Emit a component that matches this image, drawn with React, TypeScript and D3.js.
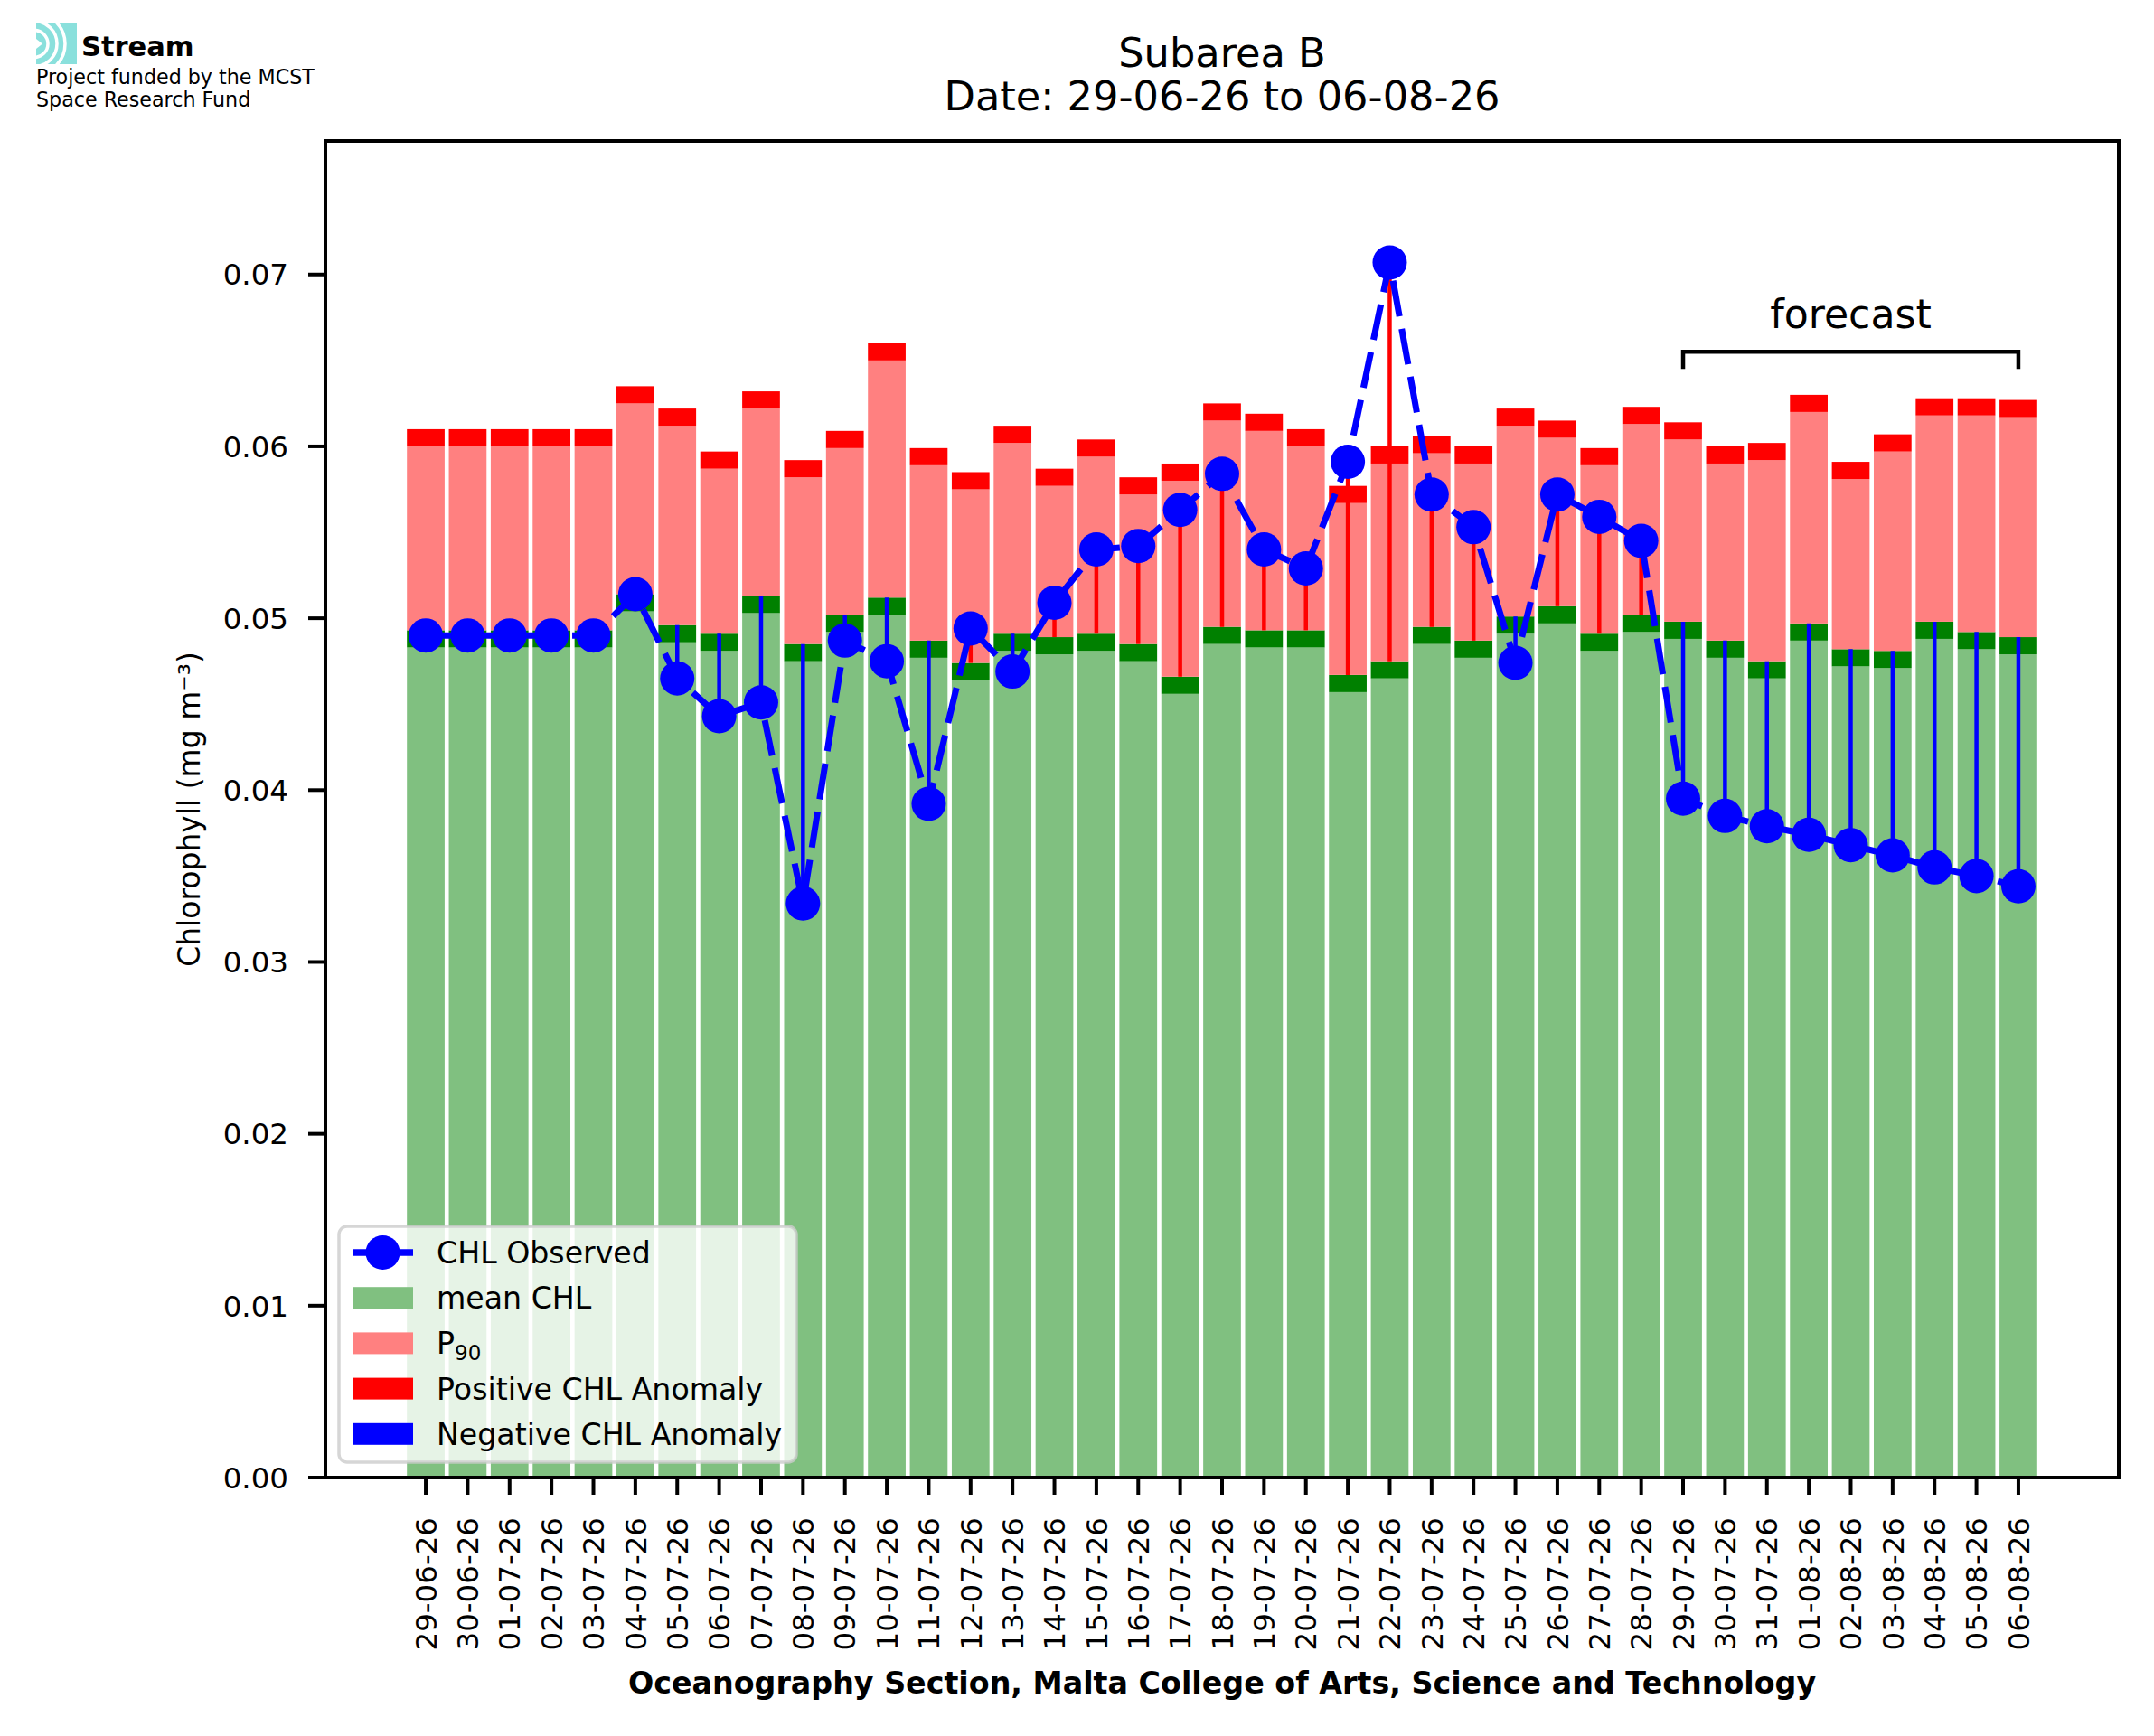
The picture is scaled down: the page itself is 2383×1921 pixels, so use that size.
import React, { useEffect, useRef } from "react";
import * as d3 from "d3";

// dates shown on the x axis
const dates = [
  "29-06-26", "30-06-26", "01-07-26", "02-07-26", "03-07-26", "04-07-26",
  "05-07-26", "06-07-26", "07-07-26", "08-07-26", "09-07-26", "10-07-26",
  "11-07-26", "12-07-26", "13-07-26", "14-07-26", "15-07-26", "16-07-26",
  "17-07-26", "18-07-26", "19-07-26", "20-07-26", "21-07-26", "22-07-26",
  "23-07-26", "24-07-26", "25-07-26", "26-07-26", "27-07-26", "28-07-26",
  "29-07-26", "30-07-26", "31-07-26", "01-08-26", "02-08-26", "03-08-26",
  "04-08-26", "05-08-26", "06-08-26",
];

// climatological mean CHL (top of the light green bar)
const meanChl = [
  0.0483, 0.0483, 0.0483, 0.0483, 0.0483, 0.0504, 0.0486, 0.0481, 0.0503,
  0.0475, 0.0492, 0.0502, 0.0477, 0.0464, 0.0481, 0.0479, 0.0481, 0.0475,
  0.0456, 0.0485, 0.0483, 0.0483, 0.0457, 0.0465, 0.0485, 0.0477, 0.0491,
  0.0497, 0.0481, 0.0492, 0.0488, 0.0477, 0.0465, 0.0487, 0.0472, 0.0471,
  0.0488, 0.0482, 0.0479,
];

// 90th percentile (top of the light red bar)
const p90Chl = [
  0.06, 0.06, 0.06, 0.06, 0.06, 0.0625, 0.0612, 0.0587, 0.0622, 0.0582,
  0.0599, 0.065, 0.0589, 0.0575, 0.0602, 0.0577, 0.0594, 0.0572, 0.058,
  0.0615, 0.0609, 0.06, 0.0567, 0.059, 0.0596, 0.059, 0.0612, 0.0605,
  0.0589, 0.0613, 0.0604, 0.059, 0.0592, 0.062, 0.0581, 0.0597, 0.0618,
  0.0618, 0.0617,
];

// observed / forecast CHL
const observedChl = [
  0.049, 0.049, 0.049, 0.049, 0.049, 0.0514, 0.0465, 0.0443, 0.0451, 0.0334,
  0.0487, 0.0475, 0.0392, 0.0494, 0.0469, 0.0509, 0.054, 0.0542, 0.0563,
  0.0584, 0.054, 0.0529, 0.0591, 0.0707, 0.0572, 0.0553, 0.0474, 0.0572,
  0.0559, 0.0545, 0.0395, 0.0385, 0.0379, 0.0374, 0.0368, 0.0362, 0.0355,
  0.035, 0.0344,
];

const yTicks = [0, 0.01, 0.02, 0.03, 0.04, 0.05, 0.06, 0.07];
const band = 0.001; // thickness of the dark green / red caps
const forecastStart = 30;
const forecastEnd = 38;

const W = 2383;
const H = 1921;
const font = "DejaVu Sans";

function App() {
  const ref = useRef<SVGSVGElement>(null);

  useEffect(() => {
    const svg = d3.select(ref.current);
    svg.selectAll("*").remove();

    const n = dates.length;
    var margin = { left: 360, right: 2344, top: 156, bottom: 1635 };
    var barW = 0.9;
    var pad = 0.05 * (n - 1 + barW);
    const x = d3
      .scaleLinear()
      .domain([-barW / 2 - pad, n - 1 + barW / 2 + pad])
      .range([margin.left, margin.right]);
    const y = d3
      .scaleLinear()
      .domain([0, d3.max(observedChl)! * 1.1])
      .range([margin.bottom, margin.top]);
    const bw = x(barW) - x(0);

    const idx = d3.range(n);
    const bars = svg.append("g");

    // stacked bars: mean, mean cap, P90, P90 cap
    const layers = [
      { lo: () => 0, hi: (i: number) => meanChl[i], color: "#80c080" },
      { lo: (i: number) => meanChl[i], hi: (i: number) => meanChl[i] + band, color: "#008000" },
      { lo: (i: number) => meanChl[i] + band, hi: (i: number) => p90Chl[i], color: "#ff8080" },
      { lo: (i: number) => p90Chl[i], hi: (i: number) => p90Chl[i] + band, color: "#ff0000" },
    ];
    layers.forEach((l) => {
      bars
        .selectAll(null)
        .data(idx)
        .enter()
        .append("rect")
        .attr("x", (i) => x(i) - bw / 2)
        .attr("width", bw)
        .attr("y", (i) => y(l.hi(i)))
        .attr("height", (i) => y(l.lo(i)) - y(l.hi(i)))
        .attr("fill", l.color);
    });

    // anomaly stems
    svg
      .append("g")
      .selectAll("line")
      .data(idx)
      .enter()
      .append("line")
      .attr("x1", (i) => x(i))
      .attr("x2", (i) => x(i))
      .attr("y1", (i) => y(observedChl[i]))
      .attr("y2", (i) => y(meanChl[i] + band))
      .attr("stroke", (i) => (observedChl[i] > meanChl[i] + band ? "#ff0000" : "#0000ff"))
      .attr("stroke-width", 4.5);

    // observed line
    const line = d3
      .line<number>()
      .x((i) => x(i))
      .y((i) => y(observedChl[i]));
    svg
      .append("path")
      .attr("d", line(idx))
      .attr("fill", "none")
      .attr("stroke", "#0000ff")
      .attr("stroke-width", 7)
      .attr("stroke-dasharray", "40,14");
    svg
      .append("g")
      .selectAll("circle")
      .data(idx)
      .enter()
      .append("circle")
      .attr("cx", (i) => x(i))
      .attr("cy", (i) => y(observedChl[i]))
      .attr("r", 19)
      .attr("fill", "#0000ff");

    // axes frame
    svg
      .append("rect")
      .attr("x", margin.left)
      .attr("y", margin.top)
      .attr("width", margin.right - margin.left)
      .attr("height", margin.bottom - margin.top)
      .attr("fill", "none")
      .attr("stroke", "#000")
      .attr("stroke-width", 4);

    // y ticks
    const yt = svg.append("g");
    yTicks.forEach((t) => {
      yt.append("line")
        .attr("x1", margin.left - 19)
        .attr("x2", margin.left)
        .attr("y1", y(t))
        .attr("y2", y(t))
        .attr("stroke", "#000")
        .attr("stroke-width", 4);
      yt.append("text")
        .attr("x", margin.left - 41)
        .attr("y", y(t))
        .attr("dy", "0.36em")
        .attr("text-anchor", "end")
        .attr("font-family", font)
        .attr("font-size", 32.5)
        .text(d3.format(".2f")(t));
    });

    // x ticks
    const xt = svg.append("g");
    dates.forEach((d, i) => {
      xt.append("line")
        .attr("x1", x(i))
        .attr("x2", x(i))
        .attr("y1", margin.bottom)
        .attr("y2", margin.bottom + 19)
        .attr("stroke", "#000")
        .attr("stroke-width", 4);
      xt.append("text")
        .attr("transform", "translate(" + x(i) + "," + (margin.bottom + 44) + ") rotate(-90)")
        .attr("dy", "0.36em")
        .attr("text-anchor", "end")
        .attr("font-family", font)
        .attr("font-size", 32.5)
        .text(d);
    });

    // axis labels and title
    const cx = (margin.left + margin.right) / 2;
    svg
      .append("text")
      .attr("x", cx)
      .attr("y", 1874)
      .attr("text-anchor", "middle")
      .attr("font-family", font)
      .attr("font-weight", "bold")
      .attr("font-size", 33.3)
      .text("Oceanography Section, Malta College of Arts, Science and Technology");
    svg
      .append("text")
      .attr("transform", "translate(209," + (margin.top + margin.bottom) / 2 + ") rotate(-90)")
      .attr("dy", "0.36em")
      .attr("text-anchor", "middle")
      .attr("font-family", font)
      .attr("font-size", 33)
      .text("Chlorophyll (mg m⁻³)");
    svg
      .append("text")
      .attr("x", cx)
      .attr("y", 74)
      .attr("text-anchor", "middle")
      .attr("font-family", font)
      .attr("font-size", 44.7)
      .text("Subarea B");
    svg
      .append("text")
      .attr("x", cx)
      .attr("y", 122)
      .attr("text-anchor", "middle")
      .attr("font-family", font)
      .attr("font-size", 44.7)
      .text("Date: " + dates[0] + " to " + dates[n - 1]);

    // forecast bracket
    const by = y(0.0655);
    const bdrop = y(0.0655 - band) - by;
    svg
      .append("path")
      .attr(
        "d",
        "M" + x(forecastStart) + "," + (by + bdrop) + "V" + by + "H" + x(forecastEnd) + "V" + (by + bdrop)
      )
      .attr("fill", "none")
      .attr("stroke", "#000")
      .attr("stroke-width", 4.5);
    svg
      .append("text")
      .attr("x", x((forecastStart + forecastEnd) / 2))
      .attr("y", y(0.0669))
      .attr("text-anchor", "middle")
      .attr("font-family", font)
      .attr("font-size", 44.2)
      .text("forecast");

    // legend
    const lg = svg.append("g");
    lg.append("rect")
      .attr("x", 375)
      .attr("y", 1357)
      .attr("width", 506)
      .attr("height", 261)
      .attr("rx", 9)
      .attr("fill", "#ffffff")
      .attr("fill-opacity", 0.8)
      .attr("stroke", "#cccccc")
      .attr("stroke-opacity", 0.8)
      .attr("stroke-width", 3.5);
    const rows = [
      { label: "CHL Observed", color: "#0000ff", kind: "line" },
      { label: "mean CHL", color: "#80c080", kind: "patch" },
      { label: "P", sub: "90", color: "#ff8080", kind: "patch" },
      { label: "Positive CHL Anomaly", color: "#ff0000", kind: "patch" },
      { label: "Negative CHL Anomaly", color: "#0000ff", kind: "patch" },
    ];
    rows.forEach((r, k) => {
      const ry = 1386 + k * 50.2;
      if (r.kind === "line") {
        lg.append("line")
          .attr("x1", 390)
          .attr("x2", 457)
          .attr("y1", ry)
          .attr("y2", ry)
          .attr("stroke", r.color)
          .attr("stroke-width", 7.5);
        lg.append("circle").attr("cx", 423.5).attr("cy", ry).attr("r", 19).attr("fill", r.color);
      } else {
        lg.append("rect")
          .attr("x", 390)
          .attr("y", ry - 12)
          .attr("width", 67)
          .attr("height", 24)
          .attr("fill", r.color);
      }
      const t = lg
        .append("text")
        .attr("x", 483)
        .attr("y", ry + 12)
        .attr("font-family", font)
        .attr("font-size", 33.2)
        .text(r.label);
      if (r.sub) {
        t.append("tspan").attr("dy", 7).attr("font-size", 23).text(r.sub);
      }
    });

    // logo
    const logo = svg.append("g");
    logo
      .append("clipPath")
      .attr("id", "logoClip")
      .append("rect")
      .attr("x", 40)
      .attr("y", 26)
      .attr("width", 45)
      .attr("height", 45);
    const lc = logo.append("g").attr("clip-path", "url(#logoClip)");
    lc.append("rect").attr("x", 40).attr("y", 26).attr("width", 45).attr("height", 45).attr("fill", "#8ae0dc");
    [15, 25, 34].forEach((r) => {
      lc.append("circle")
        .attr("cx", 38)
        .attr("cy", 48.5)
        .attr("r", r)
        .attr("fill", "none")
        .attr("stroke", "#ffffff")
        .attr("stroke-width", 3.5);
    });
    lc.append("path").attr("d", "M40,43 L47,48.5 L40,54 Z").attr("fill", "#ffffff");
    logo
      .append("text")
      .attr("x", 90)
      .attr("y", 62)
      .attr("font-family", font)
      .attr("font-weight", "bold")
      .attr("font-size", 30.5)
      .text("Stream");
    logo
      .append("text")
      .attr("x", 40)
      .attr("y", 93)
      .attr("font-family", font)
      .attr("font-size", 22.2)
      .text("Project funded by the MCST");
    logo
      .append("text")
      .attr("x", 40)
      .attr("y", 118)
      .attr("font-family", font)
      .attr("font-size", 22.2)
      .text("Space Research Fund");
  }, []);

  return (
    <svg
      ref={ref}
      width={W}
      height={H}
      style={{ position: "absolute", left: 0, top: 0, background: "#fff" }}
    />
  );
}

export default App;
